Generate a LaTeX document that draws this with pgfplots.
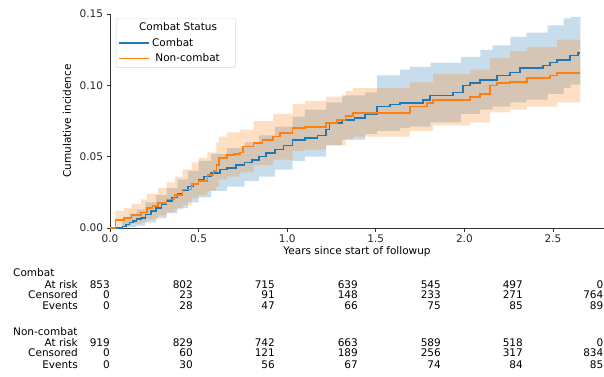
\documentclass[border=0pt]{standalone}
\usepackage{fontspec}
\setmainfont{DejaVu Sans}
\usepackage{pgfplots}
\usepackage{pgfplotstable}
\pgfplotsset{compat=1.18}
\usepgfplotslibrary{fillbetween}
\definecolor{tabblue}{HTML}{1F77B4}
\definecolor{taborange}{HTML}{FF7F0E}

\pgfplotstableread{
x y
0 0
0.07 0.0012
0.09 0.0025
0.11 0.0037
0.13 0.005
0.15 0.0062
0.175 0.007
0.20 0.0095
0.23 0.012
0.26 0.014
0.29 0.0165
0.32 0.019
0.35 0.0215
0.38 0.024
0.41 0.0266
0.44 0.029
0.47 0.031
0.50 0.0336
0.53 0.036
0.57 0.0385
0.62 0.041
0.66 0.042
0.71 0.044
0.76 0.046
0.80 0.0477
0.84 0.050
0.88 0.0526
0.93 0.055
0.98 0.058
1.03 0.0617
1.10 0.063
1.17 0.065
1.22 0.069
1.24 0.0736
1.31 0.0757
1.38 0.077
1.44 0.080
1.507 0.085
1.58 0.0865
1.637 0.0876
1.766 0.0897
1.806 0.093
1.936 0.095
1.992 0.100
2.032 0.1016
2.088 0.1037
2.184 0.107
2.257 0.109
2.314 0.112
2.444 0.114
2.483 0.116
2.523 0.1177
2.596 0.121
2.641 0.1226
2.655 0.1226
}\combatline

\pgfplotstableread{
x l u
0 0 0
0.07 0.0002 0.006
0.11 0.0008 0.010
0.15 0.0017 0.013
0.20 0.0040 0.018
0.26 0.0070 0.023
0.32 0.0105 0.028
0.38 0.014 0.034
0.44 0.018 0.040
0.50 0.0215 0.047
0.57 0.026 0.052
0.66 0.029 0.056
0.76 0.033 0.060
0.84 0.036 0.065
0.93 0.041 0.071
1.03 0.047 0.078
1.10 0.050 0.083
1.22 0.058 0.088
1.31 0.062 0.093
1.44 0.066 0.095
1.507 0.068 0.107
1.637 0.070 0.111
1.693 0.071 0.113
1.81 0.074 0.116
1.98 0.080 0.120
2.09 0.083 0.1248
2.16 0.085 0.128
2.26 0.088 0.134
2.35 0.090 0.137
2.47 0.094 0.142
2.56 0.098 0.147
2.60 0.1005 0.148
2.655 0.1005 0.148
}\combatband

\pgfplotstableread{
x y
0 0
0.03 0.0056
0.08 0.007
0.12 0.009
0.175 0.011
0.21 0.014
0.24 0.0155
0.27 0.0175
0.32 0.020
0.365 0.023
0.41 0.027
0.46 0.031
0.50 0.033
0.55 0.037
0.585 0.040
0.60 0.044
0.615 0.049
0.66 0.051
0.70 0.052
0.734 0.053
0.75 0.057
0.81 0.0596
0.86 0.0617
0.92 0.064
0.96 0.0666
1.03 0.070
1.10 0.0708
1.22 0.0736
1.28 0.0757
1.33 0.0785
1.37 0.0806
1.693 0.085
1.789 0.0876
1.823 0.0897
2.032 0.0918
2.088 0.094
2.144 0.100
2.184 0.1016
2.257 0.1023
2.353 0.105
2.483 0.107
2.523 0.1086
2.655 0.1086
}\noncombatline

\pgfplotstableread{
x l u
0 0 0
0.03 0.001 0.012
0.08 0.0015 0.014
0.12 0.003 0.017
0.175 0.004 0.020
0.21 0.006 0.024
0.27 0.009 0.028
0.32 0.011 0.032
0.365 0.013 0.036
0.41 0.016 0.041
0.46 0.021 0.046
0.50 0.023 0.049
0.55 0.026 0.053
0.60 0.029 0.060
0.615 0.034 0.064
0.66 0.036 0.067
0.734 0.039 0.069
0.81 0.044 0.075
0.92 0.048 0.080
1.03 0.054 0.087
1.10 0.055 0.089
1.22 0.058 0.092
1.33 0.062 0.096
1.37 0.064 0.098
1.693 0.068 0.102
1.823 0.072 0.108
2.032 0.074 0.111
2.144 0.081 0.119
2.257 0.083 0.124
2.353 0.085 0.127
2.523 0.088 0.132
2.655 0.088 0.132
}\noncombatband

\begin{document}
\begin{tikzpicture}[font=\fontsize{10.5}{12}\selectfont]
\begin{axis}[
  at={(110pt,148pt)}, anchor=south west,
  scale only axis, width=494pt, height=214pt,
  xmin=0, xmax=2.788, ymin=0, ymax=0.15,
  axis x line*=bottom, axis y line*=left,
  axis line style={-, black!80, line width=0.8pt},
  xtick={0,0.5,1,1.5,2,2.5}, ytick={0,0.05,0.1,0.15},
  tick align=outside, major tick length=3.5pt,
  tick style={black!80, line width=0.8pt},
  /pgf/number format/assume math mode=true,
  xticklabel style={/pgf/number format/.cd, fixed, fixed zerofill, precision=1},
  yticklabel style={/pgf/number format/.cd, fixed, fixed zerofill, precision=2},
  scaled y ticks=false, scaled x ticks=false,
  ticklabel style={font=\fontsize{10.5}{12}\selectfont, text=black!85},
  xlabel={Years since start of followup},
  ylabel={Cumulative incidence},
  every axis x label/.style={at={(axis description cs:0.5,-0.112)}, anchor=center},
  every axis y label/.style={at={(axis description cs:-0.087,0.5)}, anchor=center, rotate=90},
  legend style={at={(axis description cs:0.012,0.981)}, anchor=north west,
    draw=black!15, rounded corners=2pt, fill=white, inner sep=2.5pt, row sep=2pt,
    font=\fontsize{10.5}{12}\selectfont, cells={anchor=west}},
  legend image code/.code={\path (0pt,0pt) -- (30pt,0pt);\draw[#1] (0pt,0pt) -- (25pt,0pt);},
]
\addlegendimage{empty legend}
\addplot[draw=none, name path=cbu, const plot, forget plot] table[x=x,y=u]{\combatband};
\addplot[draw=none, name path=cbl, const plot, forget plot] table[x=x,y=l]{\combatband};
\addplot[fill=tabblue, fill opacity=0.25, draw=none, forget plot] fill between[of=cbu and cbl];
\addplot[draw=none, name path=nbu, const plot, forget plot] table[x=x,y=u]{\noncombatband};
\addplot[draw=none, name path=nbl, const plot, forget plot] table[x=x,y=l]{\noncombatband};
\addplot[fill=taborange, fill opacity=0.25, draw=none, forget plot] fill between[of=nbu and nbl];
\addplot[tabblue, line width=1.5pt, const plot] table[x=x,y=y]{\combatline};
\addplot[taborange, line width=1.5pt, const plot] table[x=x,y=y]{\noncombatline};
\legend{{\hspace{-13pt}Combat Status},Combat,{\makebox[79pt][l]{\ Non-combat}}}
\end{axis}

\node[anchor=west, inner sep=0pt] at (13pt,103.3pt) {Combat};
\node[anchor=west, inner sep=0pt] at (13pt,44.3pt) {Non-combat};
\foreach \yy/\lab in {91.7/At risk, 81/Censored, 70/Events, 33.7/At risk, 23.3/Censored, 11.7/Events}
  \node[anchor=east, inner sep=0pt] at (78pt,\yy pt) {\lab};
\foreach \xx/\a/\b/\c in {110/853/0/0, 193/802/23/28, 275/715/91/47, 358/639/148/66, 441/545/233/75, 523/497/271/85, 603.5/0/764/89} {
  \node[anchor=east, inner sep=0pt] at (\xx pt,91.7pt) {\a};
  \node[anchor=east, inner sep=0pt] at (\xx pt,81pt) {\b};
  \node[anchor=east, inner sep=0pt] at (\xx pt,70pt) {\c};
}
\foreach \xx/\a/\b/\c in {110/919/0/0, 193/829/60/30, 275/742/121/56, 358/663/189/67, 441/589/256/74, 523/518/317/84, 603.5/0/834/85} {
  \node[anchor=east, inner sep=0pt] at (\xx pt,33.7pt) {\a};
  \node[anchor=east, inner sep=0pt] at (\xx pt,23.3pt) {\b};
  \node[anchor=east, inner sep=0pt] at (\xx pt,11.7pt) {\c};
}
\pgfresetboundingbox
\useasboundingbox (0,0) rectangle (604pt,376pt);
\end{tikzpicture}
\end{document}
